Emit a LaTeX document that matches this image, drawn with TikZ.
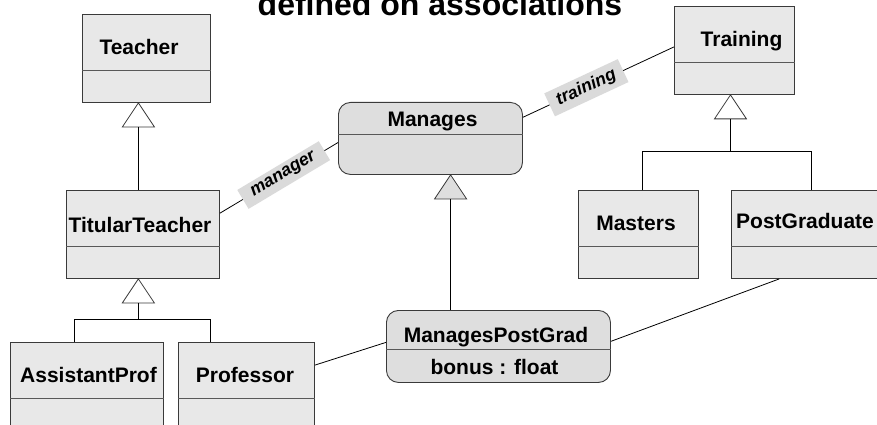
\documentclass[tikz,border=0pt]{standalone}
\usepackage{fontspec}
\setmainfont{Liberation Sans}
\usetikzlibrary{calc}
\definecolor{classfill}{HTML}{E8E8E8}
\definecolor{assocfill}{HTML}{DEDEDE}
\definecolor{rolefill}{HTML}{DADADA}
\definecolor{edge}{HTML}{3A3A3A}
% horizontal compartment separator inside a class box, at a fraction of its height
\newcommand\compart[2]{%
  \draw[compline] ($(#1.north west)!#2!(#1.south west)$) -- ($(#1.north east)!#2!(#1.south east)$);}
\begin{document}
\begin{tikzpicture}[x=1pt,y=-1pt,
  classbox/.style={draw=edge, fill=classfill, line width=0.9pt, inner sep=0pt, anchor=north west},
  assocbox/.style={classbox, fill=assocfill, rounded corners=12pt},
  compline/.style={draw=edge!85, line width=1.3pt},
  cname/.style={font=\fontsize{21}{24}\selectfont\bfseries, anchor=base, inner sep=0pt},
  conn/.style={draw=black, line width=0.8pt},
  role/.style={font=\fontsize{17.5}{20}\selectfont\bfseries\itshape, fill=rolefill, sloped,
               inner xsep=11pt, inner ysep=4.5pt},
  gentri/.style={draw=edge, line width=0.8pt, fill=white},
]
\useasboundingbox (0,0) rectangle (877,425);
\clip (0,0) rectangle (877,425);

% title
\node[font=\fontsize{32}{36}\selectfont\bfseries, anchor=base, inner sep=0pt] (title) at (440,16) {defined on associations};

% classes
\node[classbox, minimum width=128pt, minimum height=88pt] (teacher) at (82,14) {};
\node[classbox, minimum width=153pt, minimum height=88pt] (titular) at (66,190) {};
\node[classbox, minimum width=153pt, minimum height=88pt] (assist) at (10,342) {};
\node[classbox, minimum width=136pt, minimum height=88pt] (prof) at (178,342) {};
\node[classbox, minimum width=120pt, minimum height=88pt] (training) at (674,6) {};
\node[classbox, minimum width=120pt, minimum height=88pt] (masters) at (578,190) {};
\node[classbox, minimum width=149pt, minimum height=88pt] (postgrad) at (731,190) {};
% association classes
\node[assocbox, minimum width=184pt, minimum height=72pt] (manages) at (338,102) {};
\node[assocbox, minimum width=224pt, minimum height=72pt] (mpg) at (386,310) {};

\compart{teacher}{0.636}
\compart{titular}{0.636}
\compart{assist}{0.636}
\compart{prof}{0.636}
\compart{training}{0.636}
\compart{masters}{0.636}
\compart{postgrad}{0.636}
\compart{manages}{0.444}
\compart{mpg}{0.542}

% class names
\node[cname] (teacher-n) at (139,55) {Teacher};
\node[cname] (titular-n) at (140,232) {TitularTeacher};
\node[cname] (assist-n) at (88.5,382) {AssistantProf};
\node[cname] (prof-n) at (245,382) {Professor};
\node[cname] (training-n) at (741.5,47) {Training};
\node[cname] (masters-n) at (636,230) {Masters};
\node[cname] (postgrad-n) at (805,228) {PostGraduate};
\node[cname] (manages-n) at (432.5,127) {Manages};
\node[cname] (mpg-n) at (496,342) {ManagesPostGrad};
\node[cname] (mpg-a) at (494.5,374) {bonus : float};

% generalisation: Teacher <- TitularTeacher
\coordinate (g1) at ($(teacher.south west)!0.4375!(teacher.south east)$);
\coordinate (g1b) at ($(g1)+(0,24)$);
\draw[gentri] (g1) -- ++(16,24) -- ++(-32,0) -- cycle;
\draw[conn] (g1b) -- (g1b |- titular.north);

% generalisation: TitularTeacher <- AssistantProf, Professor
\coordinate (g2) at ($(titular.south west)!0.47!(titular.south east)$);
\coordinate (g2b) at ($(g2)+(0,24)$);
\coordinate (j2) at ($(g2b)+(0,16)$);
\coordinate (a1) at ($(assist.north west)!0.418!(assist.north east)$);
\coordinate (p1) at ($(prof.north west)!0.235!(prof.north east)$);
\draw[gentri] (g2) -- ++(16,24) -- ++(-32,0) -- cycle;
\draw[conn] (g2b) -- (j2);
\draw[conn] (a1) |- (j2) -| (p1);

% generalisation: Training <- Masters, PostGraduate
\coordinate (g3) at ($(training.south west)!0.467!(training.south east)$);
\coordinate (g3b) at ($(g3)+(0,24)$);
\coordinate (j3) at ($(g3b)+(0,32)$);
\coordinate (m1) at ($(masters.north west)!0.533!(masters.north east)$);
\coordinate (pg1) at ($(postgrad.north west)!0.537!(postgrad.north east)$);
\draw[gentri] (g3) -- ++(16,24) -- ++(-32,0) -- cycle;
\draw[conn] (g3b) -- (j3);
\draw[conn] (m1) |- (j3) -| (pg1);

% generalisation: Manages <- ManagesPostGrad
\coordinate (g4) at ($(manages.south west)!0.609!(manages.south east)$);
\coordinate (g4b) at ($(g4)+(0,24)$);
\draw[gentri, fill=assocfill] (g4) -- ++(16,24) -- ++(-32,0) -- cycle;
\draw[conn] (g4b) -- (g4b |- mpg.north);

% associations with role names
\coordinate (mgrA) at ($(titular.north east)!0.261!(titular.south east)$);
\coordinate (mgrB) at ($(manages.north west)!0.556!(manages.south west)$);
\draw[conn] (mgrA) -- node[role, pos=0.54] (mgr-role) {manager} (mgrB);

\coordinate (trnA) at ($(manages.north east)!0.21!(manages.south east)$);
\coordinate (trnB) at ($(training.north west)!0.46!(training.south west)$);
\draw[conn] (trnA) -- node[role, inner xsep=8.5pt, pos=0.42] (trn-role) {training} (trnB);

% ManagesPostGrad links
\coordinate (prA) at ($(prof.north east)!0.26!(prof.south east)$);
\coordinate (prB) at ($(mpg.north west)!0.444!(mpg.south west)$);
\draw[conn] (prA) -- (prB);

\coordinate (pgA) at ($(mpg.north east)!0.43!(mpg.south east)$);
\coordinate (pgB) at ($(postgrad.south west)!0.322!(postgrad.south east)$);
\draw[conn] (pgA) -- (pgB);
\end{tikzpicture}
\end{document}
